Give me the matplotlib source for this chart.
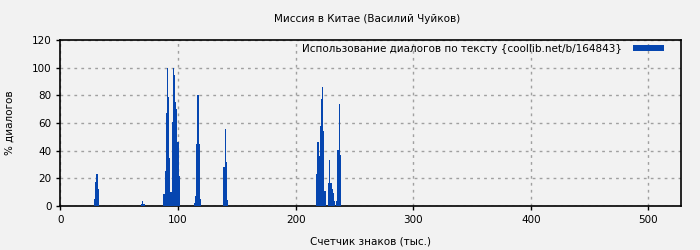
import matplotlib
matplotlib.use('Agg')
from matplotlib import pyplot as plt
import numpy as np

# position (thousand chars) and % of dialogue
x_a = [29, 30, 31, 32]
v_a = [5, 17, 23, 12]
x_b = [69, 70, 71]
v_b = [1.5, 3.6, 1.5]
x_c = [88, 89, 90, 91, 92, 93, 94, 95, 96, 97, 98, 99, 100, 101]
v_c = [9, 25, 67, 100, 79, 35, 10, 61, 100, 95, 75, 70, 46, 22]
x_d = [114, 115, 116, 117, 118, 119]
v_d = [2, 7, 45, 80, 45, 5]
x_e = [139, 140, 141, 142]
v_e = [28, 56, 32, 4]
x_f = [218, 219, 220, 221, 222, 223, 224, 225,
       228, 229, 230, 231, 232, 233,
       235, 236, 237, 238]
v_f = [23, 46, 36, 58, 77, 86, 54, 11,
       16.6, 33, 16.6, 12, 9.4, 3.6,
       3.6, 40.5, 74, 37]

xs = x_a + x_b + x_c + x_d + x_e + x_f
vals = v_a + v_b + v_c + v_d + v_e + v_f

title = 'Миссия в Китае (Василий Чуйков)'
series_label = 'Использование диалогов по тексту {coollib.net/b/164843}'
x_title = 'Счетчик знаков (тыс.)'
y_title = '% диалогов'
x_max = 528

bg = '#f2f2f2'
bar_col = '#0646b0'

fig = plt.figure(figsize=(7, 2.5), dpi=100, facecolor=bg)
ax = fig.add_axes([0.0864, 0.176, 0.887, 0.664])
ax.set_facecolor(bg)

ax.bar(xs, vals, width=1.0, color=bar_col, linewidth=0, label=series_label, zorder=3)

ax.set_xlim(0, x_max)
ax.set_ylim(0, 120)
ax.set_xticks(np.arange(0, 501, 100))
ax.set_yticks(np.arange(0, 121, 20))
ax.grid(True, color='#a0a0a0', linestyle=(0, (2, 3)), linewidth=1)
ax.tick_params(labelsize=7.5, length=3, width=1, colors='black')
for s in ax.spines.values():
    s.set_linewidth(1.2)

ax.set_xlabel(x_title, fontsize=7.5, labelpad=8)
ax.set_ylabel(y_title, fontsize=7.5, labelpad=12)
fig.text(0.525, 0.926, title, ha='center', va='center', fontsize=7.5)

leg = ax.legend(loc='upper right', bbox_to_anchor=(0.9735, 0.985), frameon=False,
                markerfirst=False, fontsize=7.5, handlelength=3.0, handleheight=0.55,
                borderaxespad=0, borderpad=0.1, handletextpad=1.0)

fig.savefig('out.png', dpi=100, facecolor=bg)
